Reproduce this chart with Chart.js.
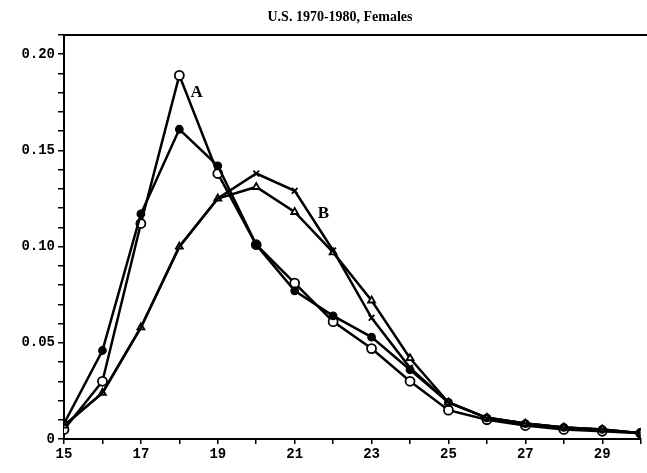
<!DOCTYPE html>
<html>
<head>
<meta charset="utf-8">
<script src="https://cdn.jsdelivr.net/npm/chart.js@4"></script>
<style>
  html, body { margin: 0; padding: 0; background: #fff; }
  #wrap { width: 647px; height: 473px; }
</style>
</head>
<body>
<div id="wrap"><canvas id="chart"></canvas></div>
<script>
const ages = [15, 16, 17, 18, 19, 20, 21, 22, 23, 24, 25, 26, 27, 28, 29, 30];
const aOpen   = [0.005, 0.030, 0.112, 0.189, 0.138, 0.101, 0.081, 0.061, 0.047, 0.030, 0.015, 0.010, 0.007, 0.005, 0.004, 0.003];
const aFilled = [0.008, 0.046, 0.117, 0.161, 0.142, 0.101, 0.077, 0.064, 0.053, 0.036, 0.019, 0.011, 0.008, 0.006, 0.005, 0.003];
const bTri    = [0.007, 0.024, 0.058, 0.100, 0.125, 0.131, 0.118, 0.097, 0.072, 0.042, 0.019, 0.011, 0.008, 0.006, 0.005, 0.003];
const bCross  = [0.007, 0.024, 0.058, 0.100, 0.125, 0.138, 0.129, 0.098, 0.063, 0.037, 0.019, 0.011, 0.008, 0.006, 0.005, 0.003];
const xTickLabels = [15, 17, 19, 21, 23, 25, 27, 29];
const yTickLabels = [0, 0.05, 0.10, 0.15, 0.20];
const title = "U.S. 1970-1980, Females";
const curveLabels = [
  { text: "A", x: 18.45, y: 0.180 },
  { text: "B", x: 21.75, y: 0.117 }
];

const pts = (arr) => arr.map((v, i) => ({ x: ages[i], y: v }));

const mono = "'Liberation Mono', 'DejaVu Sans Mono', monospace";
const serif = "'Liberation Serif', 'DejaVu Serif', serif";

const extras = {
  id: "extras",
  afterDraw(chart) {
    const c = chart.ctx;
    const a = chart.chartArea;
    const xs = chart.scales.x, ys = chart.scales.y;
    c.save();
    // top frame line
    c.strokeStyle = "#000";
    c.lineWidth = 2;
    c.beginPath();
    c.moveTo(a.left, a.top);
    c.lineTo(chart.width, a.top);
    c.stroke();
    // title
    c.fillStyle = "#000";
    c.font = "bold 14px " + serif;
    c.textAlign = "center";
    c.textBaseline = "middle";
    c.fillText(title, 340, 17);
    // curve labels
    c.font = "bold 17px " + serif;
    curveLabels.forEach(l => {
      c.fillText(l.text, xs.getPixelForValue(l.x), ys.getPixelForValue(l.y));
    });
    c.restore();
  }
};

const base = { borderColor: "#000", borderWidth: 2.5, tension: 0, pointBorderColor: "#000", pointBorderWidth: 1.8 };

new Chart(document.getElementById("chart"), {
  type: "line",
  data: {
    datasets: [
      { ...base, label: "B x", data: pts(bCross), pointStyle: "crossRot",
        pointRadius: (ctx) => bCross[ctx.dataIndex] === bTri[ctx.dataIndex] ? 0 : 4 },
      { ...base, label: "B triangle", data: pts(bTri), pointStyle: "triangle", pointRadius: 4, pointBackgroundColor: "#fff" },
      { ...base, label: "A filled", data: pts(aFilled), pointStyle: "circle", pointRadius: 3.5, pointBackgroundColor: "#000" },
      { ...base, label: "A open", data: pts(aOpen), pointStyle: "circle", pointRadius: 4.5, pointBackgroundColor: "#fff" }
    ]
  },
  options: {
    responsive: true,
    maintainAspectRatio: false,
    animation: false,
    layout: { padding: { top: 35, left: 0, right: 0, bottom: 0 } },
    plugins: { legend: { display: false }, tooltip: { enabled: false }, title: { display: false } },
    scales: {
      x: {
        type: "linear",
        min: 15,
        max: 30,
        afterFit: (s) => { s.height = 34; },
        border: { color: "#000", width: 2 },
        grid: { drawOnChartArea: false, color: "#000", tickLength: 5, lineWidth: 1.5 },
        ticks: {
          stepSize: 1,
          padding: 2,
          color: "#000",
          font: { family: mono, size: 14, weight: "bold" },
          maxRotation: 0,
          autoSkip: false,
          callback: (v) => xTickLabels.includes(v) ? String(v) : ""
        }
      },
      y: {
        min: 0,
        max: 0.21,
        afterFit: (s) => { s.width = 64; },
        border: { color: "#000", width: 2 },
        grid: { drawOnChartArea: false, color: "#000", tickLength: 6, lineWidth: 1.5 },
        ticks: {
          stepSize: 0.01,
          padding: 3,
          color: "#000",
          font: { family: mono, size: 14, weight: "bold" },
          autoSkip: false,
          callback: (v) => {
            const hit = yTickLabels.find(t => Math.abs(t - v) < 1e-6);
            if (hit === undefined) return "";
            return hit === 0 ? "0" : hit.toFixed(2);
          }
        }
      }
    }
  },
  plugins: [extras]
});
</script>
</body>
</html>
